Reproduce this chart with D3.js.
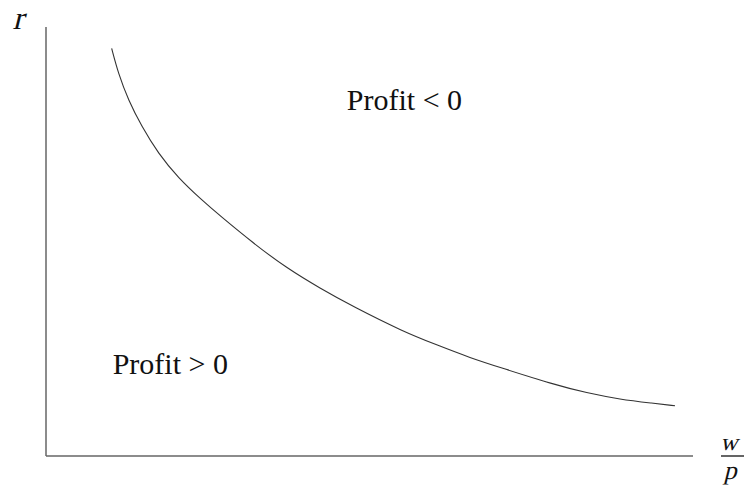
<!DOCTYPE html>
<html>
<head>
<meta charset="utf-8">
<script src="https://cdn.jsdelivr.net/npm/d3@7"></script>
<style>
  html, body { margin: 0; padding: 0; background: #fff; }
  text { font-family: "Liberation Serif", "Times New Roman", serif; fill: #111; }
</style>
</head>
<body>
<div id="root"></div>
<script>
// curve (abstract units, axes go 0..100)
var wageRatio = [10.15, 11.17, 12.72, 14.79, 17.36, 20.45, 24.06, 26.89, 32.04, 37.2, 42.35, 47.5, 55.22, 60.39, 65.53, 70.68, 78.41, 83.57, 88.72, 93.86, 97.22]
var rentRate  = [95.0, 89.2, 83.0, 76.8, 70.5, 64.8, 59.7, 56.0, 49.6, 43.8, 39.1, 34.8, 29.0, 25.9, 22.9, 20.4, 16.7, 14.7, 13.2, 12.3, 11.7]
var regionLabels = ["Profit < 0", "Profit > 0"]
var regionX = [46.5, 10.3]
var regionY = [80.6, 19.1]

var width = 745
var height = 489

var svg = d3.select("#root").append("svg")
    .attr("width", width)
    .attr("height", height)

var x = d3.scaleLinear().domain([0, 100]).range([46, 693])
var y = d3.scaleLinear().domain([0, 100]).range([456, 27])

// axes: plain lines, no ticks
svg.append("line")
    .attr("x1", x(0)).attr("y1", y(0))
    .attr("x2", x(0)).attr("y2", y(100))
    .attr("stroke", "#666").attr("stroke-width", 1.5)
svg.append("line")
    .attr("x1", x(0)).attr("y1", y(0))
    .attr("x2", x(100)).attr("y2", y(0))
    .attr("stroke", "#666").attr("stroke-width", 1.5)

var pts = wageRatio.map(function (d, i) { return [d, rentRate[i]] })
var line = d3.line()
    .x(function (d) { return x(d[0]) })
    .y(function (d) { return y(d[1]) })
    .curve(d3.curveBasis)

svg.append("path")
    .datum(pts)
    .attr("fill", "none")
    .attr("stroke", "#333")
    .attr("stroke-width", 1.1)
    .attr("d", line)

// region labels
svg.selectAll("text.region")
    .data(regionLabels)
    .enter()
    .append("text")
    .attr("class", "region")
    .attr("x", function (d, i) { return x(regionX[i]) })
    .attr("y", function (d, i) { return y(regionY[i]) })
    .attr("font-size", 30)
    .text(function (d) { return d })

// axis names, serif slanted by hand (math italic look)
function mathText(s, cx, cy, size) {
    svg.append("text")
        .attr("transform", "translate(" + cx + "," + cy + ") skewX(-14)")
        .attr("text-anchor", "middle")
        .attr("font-size", size)
        .text(s)
}
mathText("r", 18, 29, 33)
mathText("w", 729, 450, 24)
svg.append("line")
    .attr("x1", 721).attr("x2", 744)
    .attr("y1", 456).attr("y2", 456)
    .attr("stroke", "#111").attr("stroke-width", 1.3)
mathText("p", 730, 479, 26)
</script>
</body>
</html>
